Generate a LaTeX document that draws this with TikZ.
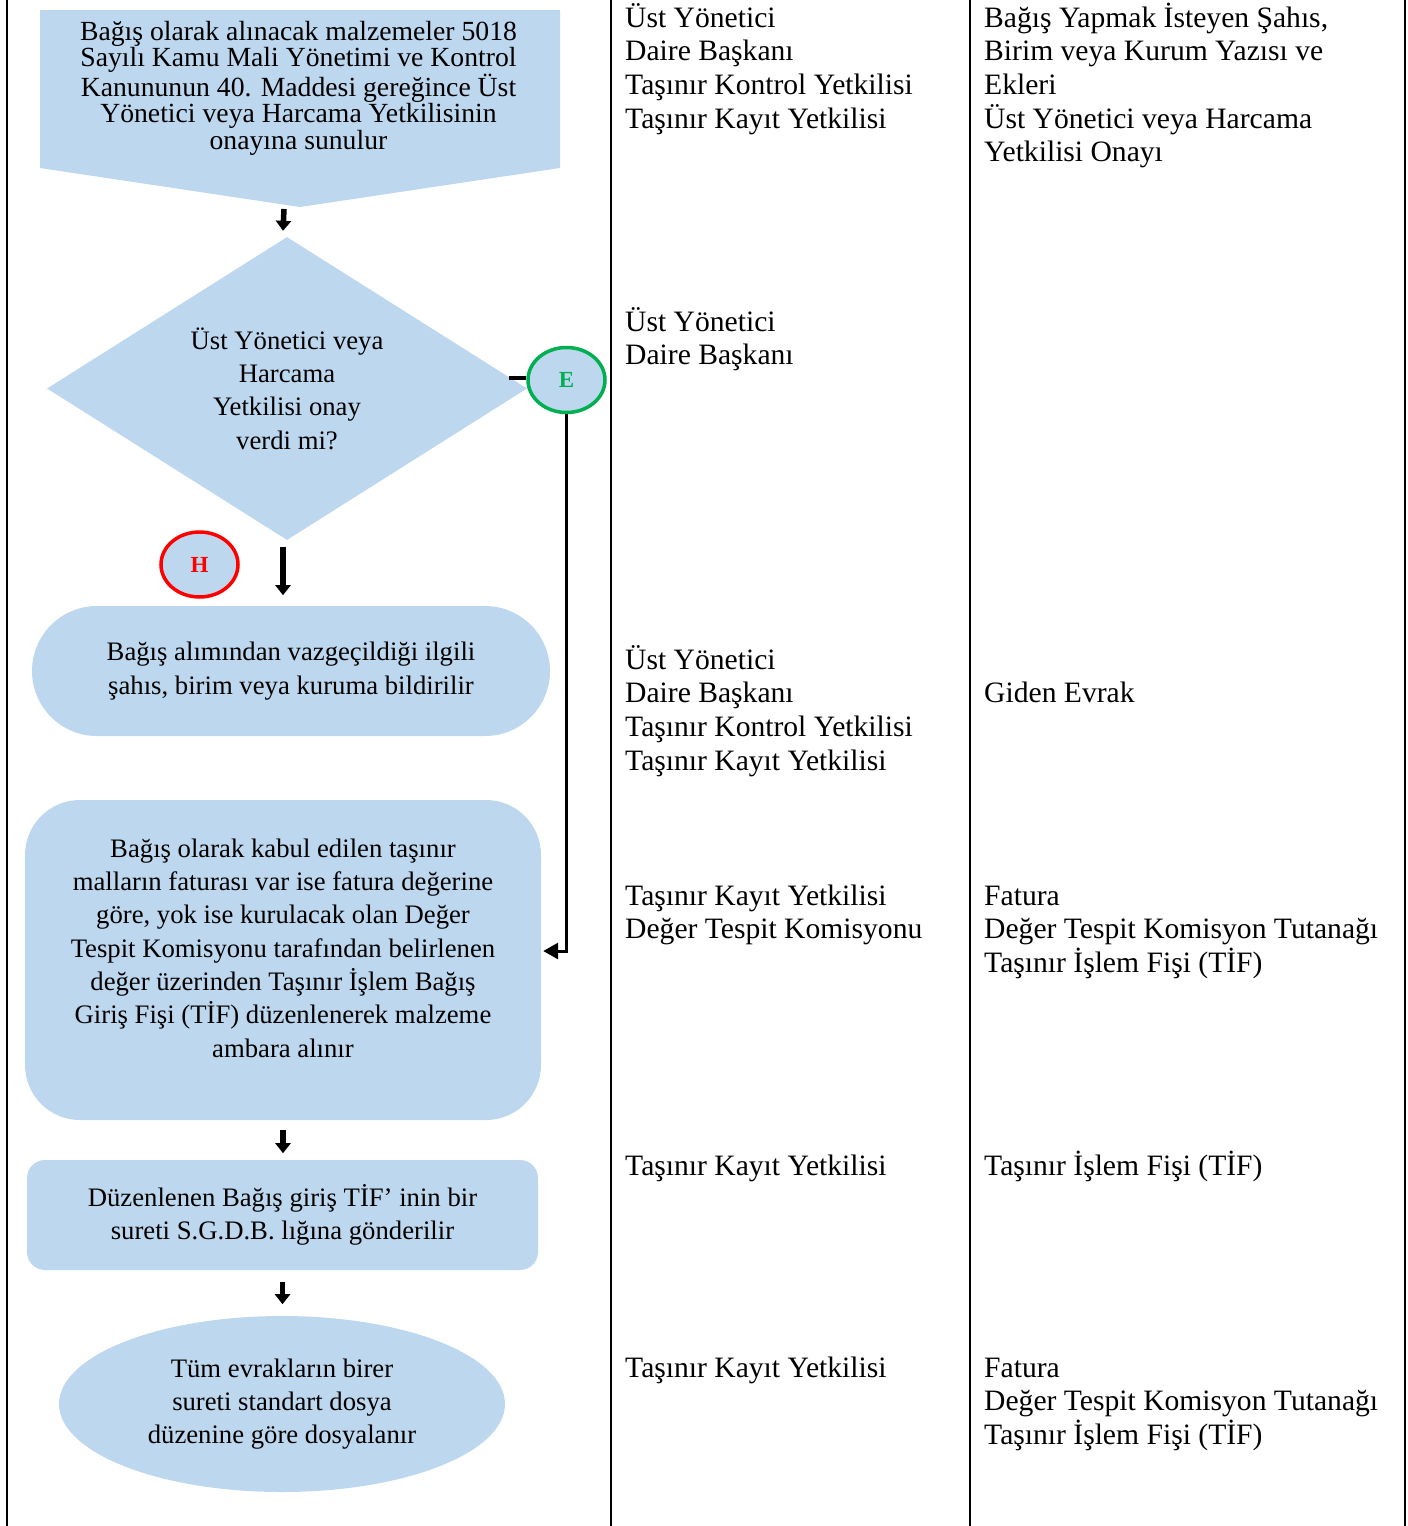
\documentclass[tikz,border=0pt]{standalone}
\usepackage{fontspec}
\setmainfont{Liberation Serif}
\usetikzlibrary{arrows.meta,shapes.geometric}
\definecolor{kutu}{RGB}{189,215,238}
\definecolor{evet}{RGB}{0,176,80}
\definecolor{hayir}{RGB}{255,0,0}
\tikzset{
  akis/.style={fill=kutu,align=center,inner sep=0pt,font=\fontsize{26.7}{33.3}\selectfont},
  sutun/.style={anchor=base west,align=left,inner sep=0pt,font=\fontsize{29.6}{33.7}\selectfont},
  ok/.style={line width=5.5pt,-{Triangle[width=15pt,length=10pt]}},
  harf/.style={ellipse,draw,line width=3.5pt,fill=kutu,minimum width=77pt,minimum height=65pt,inner sep=0pt,font=\fontsize{23}{26}\selectfont\bfseries},
}

\begin{document}
\begin{tikzpicture}[x=1pt,y=-1pt]
		\useasboundingbox (0,0) rectangle (1408,1526);
		\foreach \x in {7,611,970,1405} \draw[line width=2.5pt] (\x,0) -- (\x,1526);
		\fill[kutu] (40,10) -- (560,10) -- (560,168) -- (300,207) -- (40,168) -- cycle;
		\coordinate (uc) at (300,207);
		\node[align=center,inner sep=0pt,font=\fontsize{27.7}{26.5}\selectfont,anchor=base] (bagis) at (298.5,149)
		{Bağış olarak alınacak malzemeler 5018\\Sayılı Kamu Mali Yönetimi ve Kontrol\\Kanununun 40. Maddesi gereğince Üst\\Yönetici veya Harcama Yetkilisinin\\onayına sunulur};
		\node[akis,shape=diamond,aspect=1.6,minimum width=480pt,minimum height=303pt] (karar) at (287,388.5)
		{Üst Yönetici veya\\Harcama\\Yetkilisi onay\\verdi mi?};
		\node[harf,draw=evet,text=evet] (e) at (566.5,380) {E};
		\node[harf,draw=hayir,text=hayir] (h) at (199.5,564.5) {H};
		\node[akis,rounded corners=65pt,minimum width=518pt,minimum height=130pt] (vazgec) at (291,671)
		{Bağış alımından vazgeçildiği ilgili\\şahıs, birim veya kuruma bildirilir};
		\node[fill=kutu,rounded corners=55pt,minimum width=516pt,minimum height=320pt] (fis) at (283,960) {};
		\node[akis,fill=none] (fisyazi) at (283,948)
		{Bağış olarak kabul edilen taşınır\\malların faturası var ise fatura değerine\\göre, yok ise kurulacak olan Değer\\Tespit Komisyonu tarafından belirlenen\\değer üzerinden Taşınır İşlem Bağış\\Giriş Fişi (TİF) düzenlenerek malzeme\\ambara alınır};
		\node[akis,rounded corners=18pt,minimum width=511pt,minimum height=110pt] (suret) at (282.5,1215)
		{Düzenlenen Bağış giriş TİF’ inin bir\\sureti S.G.D.B. lığına gönderilir};
		\node[akis,ellipse,minimum width=446pt,minimum height=176pt] (dosya) at (282,1404)
		{Tüm evrakların birer\\sureti standart dosya\\düzenine göre dosyalanır};
		\draw[ok] ([shift={(-16,2)}]uc) -- ([shift={(-4,-6)}]karar.north);
		\draw[line width=4pt] ([yshift=2pt]e.west) -- ++(-17,0);
		\draw[line width=3pt,-{Triangle[width=16pt,length=15pt]}] (e.south) |- ([shift={(2,-9)}]fis.east);
		\draw[ok] ([shift={(-4,7)}]karar.south) -- ++(0,48);
		\draw[ok] ([yshift=-10pt]fis.south) -- ++(0,23);
		\draw[ok] ([yshift=-12pt]suret.south) -- ++(0,22);
		\node[sutun] (sorumlu1) at (625,128.1) {Üst Yönetici\\Daire Başkanı\\Taşınır Kontrol Yetkilisi\\Taşınır Kayıt Yetkilisi};
		\node[sutun] (sorumlu2) at (625,364.7) {Üst Yönetici\\Daire Başkanı};
		\node[sutun] (sorumlu3) at (625,770.1) {Üst Yönetici\\Daire Başkanı\\Taşınır Kontrol Yetkilisi\\Taşınır Kayıt Yetkilisi};
		\node[sutun] (sorumlu4) at (625,938.7) {Taşınır Kayıt Yetkilisi\\Değer Tespit Komisyonu};
		\node[sutun] (sorumlu5) at (625,1175) {Taşınır Kayıt Yetkilisi};
		\node[sutun] (sorumlu6) at (625,1377) {Taşınır Kayıt Yetkilisi};
		\node[sutun] (belge1) at (984,161.8) {Bağış Yapmak İsteyen Şahıs,\\Birim veya Kurum Yazısı ve\\Ekleri\\Üst Yönetici veya Harcama\\Yetkilisi Onayı};
		\node[sutun] (belge3) at (984,702) {Giden Evrak};
		\node[sutun] (belge4) at (984,972.4) {Fatura\\Değer Tespit Komisyon Tutanağı\\Taşınır İşlem Fişi (TİF)};
		\node[sutun] (belge5) at (984,1175) {Taşınır İşlem Fişi (TİF)};
		\node[sutun] (belge6) at (984,1444.4) {Fatura\\Değer Tespit Komisyon Tutanağı\\Taşınır İşlem Fişi (TİF)};
	\end{tikzpicture}
\end{document}
